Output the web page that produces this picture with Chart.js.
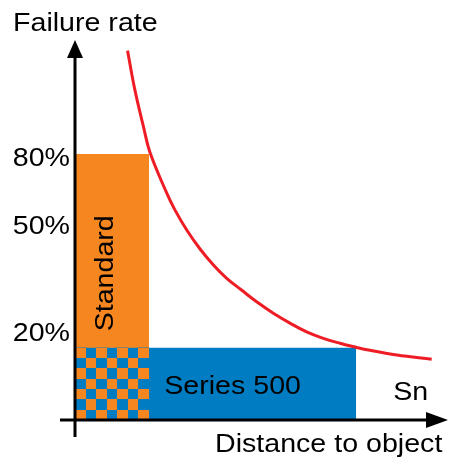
<!DOCTYPE html>
<html lang="en">

<head>
    <meta charset="UTF-8">
    <title>Failure rate vs distance</title>
    <style>
        body { margin: 0; background: #fff; }
    </style>
</head>

<body>
    <canvas id="myChart" width="450" height="460"></canvas>
    <script src="https://cdn.jsdelivr.net/npm/chart.js"></script>
    <script>
        // bars: distance range (x) and height (y), in axis units
        const standardRange = [0, 20];
        const standardTop = 70;
        const series500Range = [0, 76];
        const series500Top = 19;

        // Sn curve
        const snX = [14.2, 16.2, 18.5, 20.3, 24.8, 27.0, 30.2, 33.8, 37.4, 41.0, 45.0, 49.1, 53.6, 58.1, 62.6, 67.1, 71.6, 76.1, 79.3, 87.0, 96.4];
        const snY = [97.2, 86.8, 77.2, 70.3, 59.7, 55.3, 50.0, 45.0, 40.8, 37.3, 34.2, 31.1, 28.1, 25.5, 23.2, 21.5, 20.2, 19.1, 18.4, 17.1, 16.0];

        // y tick labels
        const yTickValues = [69, 51, 23];
        const yTickLabels = ['80%', '50%', '20%'];

        const ORANGE = '#f6861f';
        const BLUE = '#007cc2';
        const RED = '#ee1d25';
        const FONT = '26px "Liberation Sans", Arial, sans-serif';
        const CHECKS = 7;

        // checker pattern where Standard and Series 500 overlap
        function checkerFill(c) {
            const chart = c.chart;
            if (!chart.chartArea || !chart.scales.x) return ORANGE;
            const xs = chart.scales.x, ys = chart.scales.y;
            const x0 = xs.getPixelForValue(standardRange[0]);
            const x1 = xs.getPixelForValue(standardRange[1]);
            const y0 = ys.getPixelForValue(series500Top);
            const y1 = ys.getPixelForValue(0);
            const tile = document.createElement('canvas');
            tile.width = 200; tile.height = 200;
            const t = tile.getContext('2d');
            t.fillStyle = ORANGE; t.fillRect(0, 0, 200, 200);
            t.fillStyle = BLUE; t.fillRect(100, 0, 100, 100); t.fillRect(0, 100, 100, 100);
            const p = chart.ctx.createPattern(tile, 'repeat');
            p.setTransform(new DOMMatrix().translate(x0, y0)
                .scale((x1 - x0) / CHECKS / 100, (y1 - y0) / CHECKS / 100));
            return p;
        }

        function txt(ctx, s, x, y, align) {
            ctx.save();
            ctx.translate(x, y);
            ctx.scale(1.1, 1);
            ctx.textAlign = align;
            ctx.fillText(s, 0, 0);
            ctx.restore();
        }

        const decor = {
            id: 'decor',
            afterDraw(chart) {
                const ctx = chart.ctx;
                const xs = chart.scales.x, ys = chart.scales.y;
                const ox = xs.getPixelForValue(0), oy = ys.getPixelForValue(0);
                ctx.save();
                ctx.strokeStyle = '#000';
                ctx.fillStyle = '#000';
                ctx.lineWidth = 3;
                // axes
                ctx.beginPath();
                ctx.moveTo(ox, oy + 17); ctx.lineTo(ox, 56);
                ctx.moveTo(ox - 15, oy); ctx.lineTo(428, oy);
                ctx.stroke();
                // arrow heads
                ctx.beginPath();
                ctx.moveTo(ox, 40); ctx.lineTo(ox - 8, 58); ctx.lineTo(ox + 8, 58); ctx.closePath();
                ctx.fill();
                ctx.beginPath();
                ctx.moveTo(448, oy); ctx.lineTo(426, oy - 8); ctx.lineTo(426, oy + 8); ctx.closePath();
                ctx.fill();

                ctx.font = FONT;
                ctx.textBaseline = 'middle';
                yTickValues.forEach(function (v, i) {
                    txt(ctx, yTickLabels[i], 70, ys.getPixelForValue(v) + 1, 'right');
                });
                ctx.textBaseline = 'alphabetic';
                txt(ctx, 'Failure rate', 13, 31, 'left');
                txt(ctx, 'Distance to object', 215, 452, 'left');
                txt(ctx, 'Series 500', xs.getPixelForValue(42.6), ys.getPixelForValue(6.8), 'center');
                txt(ctx, 'Sn', xs.getPixelForValue(86), ys.getPixelForValue(5.3), 'left');

                ctx.save();
                ctx.translate(xs.getPixelForValue(10.3), ys.getPixelForValue(38.6));
                ctx.rotate(-Math.PI / 2);
                txt(ctx, 'Standard', 0, 0, 'center');
                ctx.restore();
                ctx.restore();
            }
        };

        function rect(range, top) {
            return [{ x: range[0], y: top }, { x: range[1], y: top }];
        }

        const ctx = document.getElementById('myChart');
        new Chart(ctx, {
            type: 'line',
            data: {
                datasets: [{
                    label: 'Sn',
                    data: snX.map(function (x, i) { return { x: x, y: snY[i] }; }),
                    borderColor: RED,
                    borderWidth: 3,
                    pointRadius: 0,
                    tension: 0.4,
                    fill: false,
                    order: 1
                }, {
                    label: 'overlap',
                    data: rect(standardRange, series500Top),
                    borderColor: 'transparent',
                    borderWidth: 0,
                    pointRadius: 0,
                    backgroundColor: checkerFill,
                    fill: 'origin',
                    order: 2
                }, {
                    label: 'Series 500',
                    data: rect(series500Range, series500Top),
                    borderColor: 'transparent',
                    borderWidth: 0,
                    pointRadius: 0,
                    backgroundColor: BLUE,
                    fill: 'origin',
                    order: 3
                }, {
                    label: 'Standard',
                    data: rect(standardRange, standardTop),
                    borderColor: 'transparent',
                    borderWidth: 0,
                    pointRadius: 0,
                    backgroundColor: ORANGE,
                    fill: 'origin',
                    order: 4
                }]
            },
            options: {
                responsive: false,
                animation: false,
                events: [],
                layout: { padding: { left: 75, right: 5, top: 40, bottom: 40 } },
                plugins: { legend: { display: false }, tooltip: { enabled: false } },
                scales: {
                    x: { type: 'linear', min: 0, max: 100, display: false },
                    y: { type: 'linear', min: 0, max: 100, display: false }
                }
            },
            plugins: [decor]
        });
    </script>
</body>

</html>
